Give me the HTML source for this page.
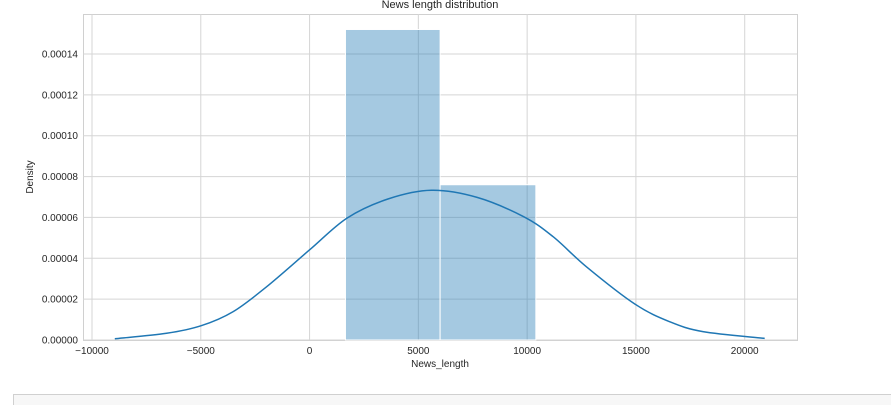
<!DOCTYPE html>
<html><head><meta charset="utf-8"><style>
body{margin:0;background:#fff;width:891px;height:405px;overflow:hidden;font-family:"Liberation Sans",Arial,sans-serif}
svg text{font-family:"Liberation Sans",Arial,sans-serif;fill:#262626}
</style></head><body>
<svg id="chart" width="891" height="405">
<rect x="13.5" y="394.5" width="890" height="20" fill="#f7f7f7" stroke="#d0d0d0"/>
</svg>
<script>
const yTicks=[0,0.00002,0.00004,0.00006,0.00008,0.0001,0.00012,0.00014];
const yTickLabels=["0.00000","0.00002","0.00004","0.00006","0.00008","0.00010","0.00012","0.00014"];
const xTicks=[-10000,-5000,0,5000,10000,15000,20000];
const xTickLabels=["\u221210000","\u22125000","0","5000","10000","15000","20000"];
const binEdges=[1650,6000,10400];
const binDensity=[0.000152,0.000076];
const kdeX=[-8950,-6570,-4980,-3510,-1970,-10,1710,3600,5600,7700,9850,11190,12720,14950,16550,18080,20920];
const kdeY=[0.0000006,0.0000033,0.000007,0.0000139,0.0000261,0.000044,0.0000596,0.000069,0.0000733,0.0000698,0.0000603,0.0000506,0.0000359,0.0000176,0.00000896,0.0000041,0.0000008];

const L=83,R=797,T=14,B=340;
const sx=v=>92+(v+10000)*(744.7-92)/30000;
const sy=v=>340-v*(340-54)/0.00014;
const svg=document.getElementById('chart');
const NS='http://www.w3.org/2000/svg';
function mk(t,a,p){const e=document.createElementNS(NS,t);for(const k in a)e.setAttribute(k,a[k]);(p||svg).appendChild(e);return e;}

const frame=mk('rect',{x:L+0.5,y:T+0.5,width:R-L,height:B-T,fill:'#fff',stroke:'#d0d0d0'});



yTicks.forEach((v,i)=>{
 const g=mk('line',{x1:L,x2:R,y1:sy(v),y2:sy(v),stroke:'#d5d5d5'});
 
 
 const t=mk('text',{x:L-5,y:sy(v)+3.5,'font-size':'10','text-anchor':'end'});
 t.textContent=yTickLabels[i];
 
 
});
xTicks.forEach((v,i)=>{
 const g=mk('line',{x1:sx(v),x2:sx(v),y1:T,y2:B,stroke:'#d5d5d5'});
 
 
 const t=mk('text',{x:sx(v),y:354,'font-size':'10','text-anchor':'middle'});
 t.textContent=xTickLabels[i];
 
 
});
binDensity.forEach((d,i)=>{
 const x0=sx(binEdges[i]),x1=sx(binEdges[i+1]);
 const r=mk('rect',{x:x0,y:sy(d),width:x1-x0,height:sy(0)-sy(d),fill:'rgba(31,119,180,0.4)',stroke:'#ffffff','stroke-width':1});
 
 
});
const pts=kdeX.map((x,i)=>[sx(x),sy(kdeY[i])]);
let d='M'+pts[0][0].toFixed(1)+','+pts[0][1].toFixed(1);
for(let i=0;i<pts.length-1;i++){
 const p0=pts[Math.max(0,i-1)],p1=pts[i],p2=pts[i+1],p3=pts[Math.min(pts.length-1,i+2)];
 const c1=[p1[0]+(p2[0]-p0[0])/6,p1[1]+(p2[1]-p0[1])/6];
 const c2=[p2[0]-(p3[0]-p1[0])/6,p2[1]-(p3[1]-p1[1])/6];
 d+='C'+c1[0].toFixed(1)+','+c1[1].toFixed(1)+' '+c2[0].toFixed(1)+','+c2[1].toFixed(1)+' '+p2[0].toFixed(1)+','+p2[1].toFixed(1);
}
const path=mk('path',{d:d,fill:'none',stroke:'#1f77b4','stroke-width':1.5,'stroke-linejoin':'round'});



const title=mk('text',{x:440,y:8,'font-size':'11','text-anchor':'middle'});
title.textContent='News length distribution';


const xl=mk('text',{x:440,y:367,'font-size':'10','text-anchor':'middle'});
xl.textContent='News_length';


const yl=mk('text',{x:0,y:0,'font-size':'10','text-anchor':'middle',transform:'translate(33,177) rotate(-90)'});
yl.textContent='Density';


</script>
</body></html>
